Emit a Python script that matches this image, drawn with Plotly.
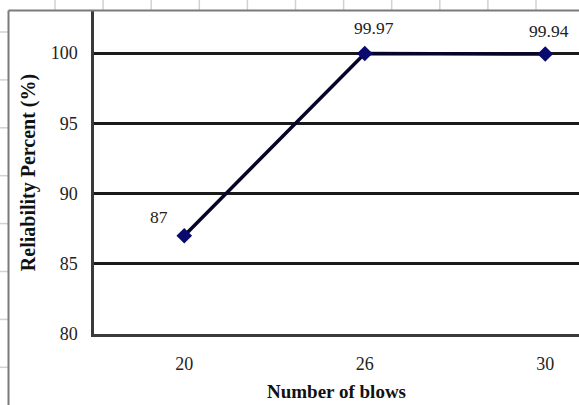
import plotly.graph_objects as go

# Data
categories = ["20", "26", "30"]
reliability = [87, 99.97, 99.94]
labels = ["87", "99.97", "99.94"]
y_ticks = [80, 85, 90, 95, 100]

W, H = 579, 405
ML, MR, MT, MB = 94, 0, 11, 71
PW, PH = W - ML - MR, H - MT - MB

def px(x):
    return (x - ML) / PW

def py(y):
    return (H - MB - y) / PH

xpos = list(range(len(categories)))

fig = go.Figure()
fig.add_trace(go.Scatter(
    x=xpos, y=reliability, mode="lines+markers",
    line=dict(color="#05052a", width=3.5),
    marker=dict(symbol="diamond", size=12, color="#0a0a6e",
                line=dict(color="#0a0a6e", width=0)),
    hoverinfo="skip", showlegend=False,
))

shifts = [(-25, 19), (9, 26), (4, 23)]
for xv, yv, t, (dx, dy) in zip(xpos, reliability, labels, shifts):
    fig.add_annotation(x=xv, y=yv, text=t, showarrow=False,
                       xshift=dx, yshift=dy,
                       font=dict(family="Liberation Serif", size=17.5, color="#222"))

shapes = []
# spreadsheet gridlines outside the chart
grid_col = "#d2d2d2"
x = 55.0
while x < W:
    shapes.append(dict(type="line", xref="paper", yref="paper",
                       x0=px(x), x1=px(x), y0=py(0), y1=py(10),
                       line=dict(color=grid_col, width=1.5)))
    x += 48.1
y = 32.0
while y < H:
    shapes.append(dict(type="line", xref="paper", yref="paper",
                       x0=px(0), x1=px(8), y0=py(y), y1=py(y),
                       line=dict(color=grid_col, width=1.5)))
    y += 47.9
# chart area border
shapes.append(dict(type="line", xref="paper", yref="paper",
                   x0=px(8.5), x1=px(W + 5), y0=py(10.5), y1=py(10.5),
                   line=dict(color="#7a7a7a", width=2)))
shapes.append(dict(type="line", xref="paper", yref="paper",
                   x0=px(8.5), x1=px(8.5), y0=py(10.5), y1=py(H + 5),
                   line=dict(color="#7a7a7a", width=2)))

fig.update_layout(
    width=W, height=H,
    margin=dict(l=ML, r=MR, t=MT, b=MB),
    paper_bgcolor="white", plot_bgcolor="white",
    shapes=shapes,
    font=dict(family="Liberation Serif", size=18, color="#222"),
    xaxis=dict(
        range=[-0.5, -0.5 + PW / 180.5],
        tickmode="array", tickvals=xpos, ticktext=categories,
        showgrid=False, zeroline=False,
        showline=True, linecolor="#3a3a3a", linewidth=2.5,
        ticks="", ticklabelstandoff=12,
        title=dict(text="<b>Number of blows</b>",
                   font=dict(family="Liberation Serif", size=19, color="#111"),
                   standoff=12),
    ),
    yaxis=dict(
        range=[80, 103],
        tickmode="array", tickvals=y_ticks,
        showgrid=True, gridcolor="#1a1a1a", gridwidth=2.5,
        zeroline=False,
        showline=True, linecolor="#3a3a3a", linewidth=2.5,
        ticks="", ticklabelstandoff=10,
        title=dict(text="<b>Reliability Percent (%)</b>",
                   font=dict(family="Liberation Serif", size=20, color="#111"),
                   standoff=10),
    ),
)

fig.write_html("out.html", config={"displayModeBar": False},
               post_script="document.body.style.margin='0px';")
